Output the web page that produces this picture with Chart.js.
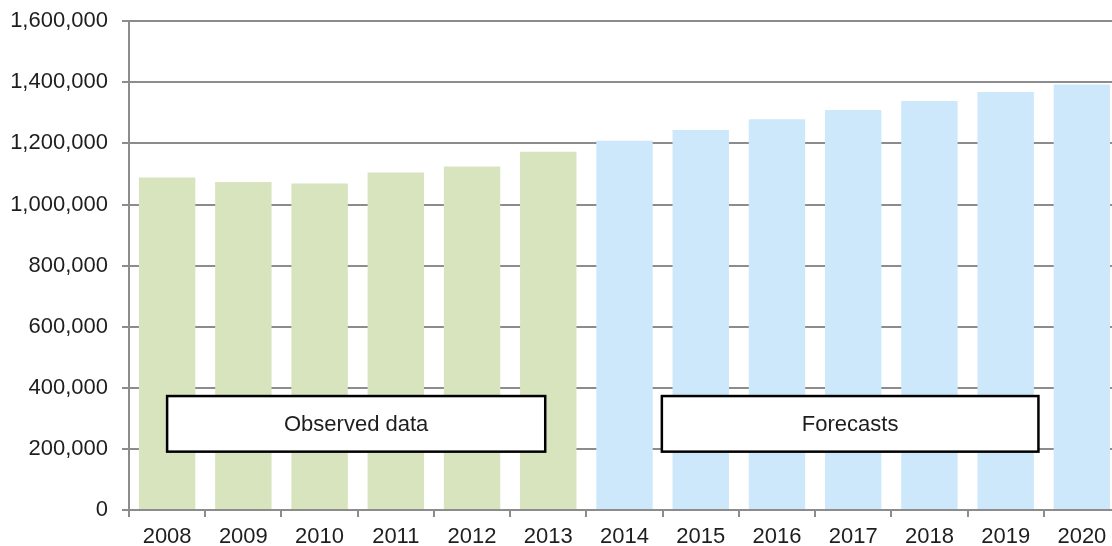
<!DOCTYPE html>
<html>
<head>
<meta charset="utf-8">
<script src="https://cdn.jsdelivr.net/npm/chart.js@4/dist/chart.umd.min.js"></script>
<style>
  html, body { margin: 0; padding: 0; background: #ffffff; overflow: hidden; }
  #wrap { width: 1112px; height: 546px; overflow: hidden; position: relative; }
  canvas { display: block; position: absolute; left: 0; top: -6px; }
</style>
</head>
<body>
<div id="wrap"><canvas id="c" width="1120" height="552"></canvas></div>
<script>
const years = ["2008","2009","2010","2011","2012","2013","2014","2015","2016","2017","2018","2019","2020"];
const observed = [1088000, 1074000, 1069000, 1105000, 1124000, 1173000, null, null, null, null, null, null, null];
const forecasts = [null, null, null, null, null, null, 1209000, 1244000, 1279000, 1309000, 1339000, 1368000, 1393000];
const yTicks = [0, 200000, 400000, 600000, 800000, 1000000, 1200000, 1400000, 1600000];
const boxLabels = ["Observed data", "Forecasts"];

const FONT = "'Liberation Sans', Arial, sans-serif";
const GRID = "#8c8c8c";
const TXT = "#1e1e1e";

const boxPlugin = {
  id: 'periodBoxes',
  afterDatasetsDraw(chart, args, opts) {
    const { ctx, scales: { x, y } } = chart;
    ctx.save();
    opts.boxes.forEach(b => {
      const x1 = x.getPixelForValue(b.from);
      const x2 = x.getPixelForValue(b.to);
      const y1 = y.getPixelForValue(b.top);
      const y2 = y.getPixelForValue(b.bottom);
      ctx.fillStyle = '#ffffff';
      ctx.fillRect(x1, y1, x2 - x1, y2 - y1);
      ctx.lineWidth = 2.5;
      ctx.strokeStyle = '#000000';
      ctx.strokeRect(x1, y1, x2 - x1, y2 - y1);
      ctx.fillStyle = TXT;
      ctx.font = "22px " + FONT;
      ctx.textAlign = 'center';
      ctx.textBaseline = 'middle';
      ctx.fillText(b.label, (x1 + x2) / 2, (y1 + y2) / 2 + 1);
    });
    ctx.restore();
  }
};

new Chart(document.getElementById('c'), {
  type: 'bar',
  data: {
    labels: years,
    datasets: [
      { label: boxLabels[0], data: observed, backgroundColor: '#d7e4bd', grouped: false,
        barPercentage: 0.74, categoryPercentage: 1.0, borderWidth: 0 },
      { label: boxLabels[1], data: forecasts, backgroundColor: '#cce8fa', grouped: false,
        barPercentage: 0.74, categoryPercentage: 1.0, borderWidth: 0 }
    ]
  },
  options: {
    responsive: false,
    animation: false,
    layout: { padding: { top: 15, right: 0, left: 0, bottom: 0 } },
    plugins: {
      legend: { display: false },
      tooltip: { enabled: false },
      periodBoxes: {
        boxes: [
          { label: boxLabels[0], from: 0, to: 4.96, top: 373000, bottom: 191000 },
          { label: boxLabels[1], from: 6.49, to: 11.43, top: 373000, bottom: 191000 }
        ]
      }
    },
    scales: {
      x: {
        offset: true,
        grid: { offset: true, drawOnChartArea: false, color: GRID, lineWidth: 2, tickLength: 7 },
        border: { color: GRID, width: 2 },
        ticks: { color: TXT, font: { family: FONT, size: 22 }, padding: 7, maxRotation: 0, autoSkip: false },
        afterFit(s) { s.height = 36; }
      },
      y: {
        min: 0, max: 1600000,
        afterBuildTicks(s) { s.ticks = yTicks.map(v => ({ value: v })); },
        grid: { color: GRID, lineWidth: 2, tickLength: 7 },
        border: { color: GRID, width: 2 },
        ticks: {
          color: TXT, font: { family: FONT, size: 22 }, padding: 14,
          callback: v => v.toLocaleString('en-US')
        },
        afterFit(s) { s.width = 129; }
      }
    }
  },
  plugins: [boxPlugin]
});
</script>
</body>
</html>
